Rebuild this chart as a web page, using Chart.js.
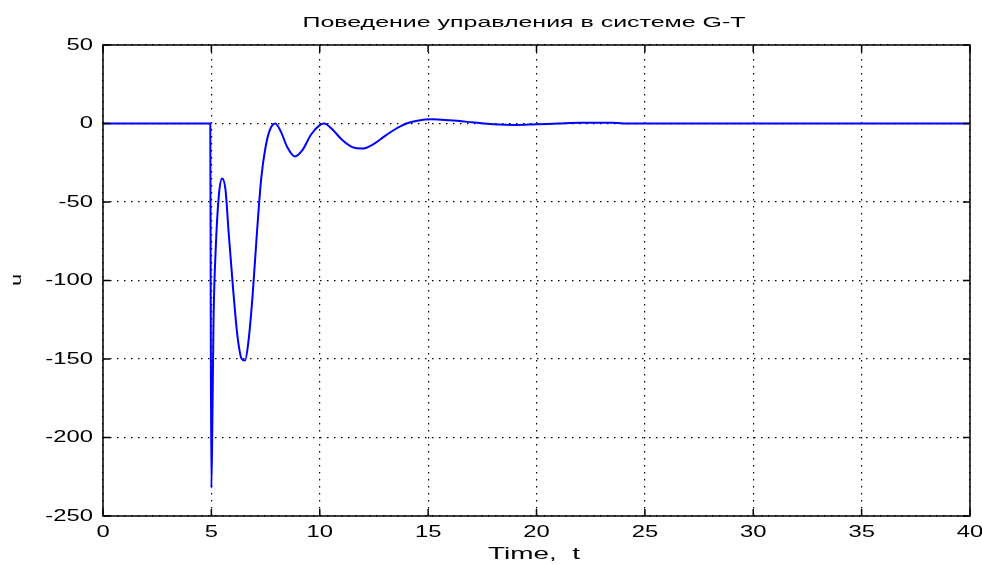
<!DOCTYPE html>
<html>
<head>
<meta charset="utf-8">
<script src="https://cdn.jsdelivr.net/npm/chart.js@4"></script>
<style>
  html, body { margin: 0; padding: 0; background: #fff; }
  #wrap { width: 982px; height: 565px; }
</style>
</head>
<body>
<div id="wrap"><canvas id="uChart" width="982" height="565"></canvas></div>
<script>
// данные
const timeValues = [0, 4.9, 4.95, 4.97, 5.0, 5.05, 5.1, 5.2, 5.35, 5.5, 5.65, 5.8, 6.0, 6.2, 6.4, 6.55, 6.7, 6.9, 7.1, 7.3, 7.5, 7.7, 7.95, 8.2, 8.5, 8.85, 9.2, 9.6, 10.0, 10.2, 10.6, 11.0, 11.5, 11.95, 12.5, 13.0, 13.5, 14.0, 14.5, 15.2, 16.0, 17.0, 18.0, 19.0, 20.0, 21.0, 22.0, 23.5, 24.0, 40];
const uValues = [0, 0, 0, -115, -232, -185, -125, -80, -45, -35, -42, -70, -105, -135, -150, -151, -140, -110, -70, -35, -15, -4, 0, -5, -15, -21, -17, -7, -1, 0, -4, -10, -15, -16, -13, -8, -3.5, 0, 1.8, 2.7, 2, 0.8, -0.5, -1, -0.5, 0, 0.5, 0.5, 0, 0];
const xTicks = [0, 5, 10, 15, 20, 25, 30, 35, 40];
const yTicks = [50, 0, -50, -100, -150, -200, -250];

const titleText = "Поведение управления в системе G-T";
const xTitle = "Time,  t";
const yTitle = "u";
const fontFamily = "'Liberation Sans', Arial, sans-serif";

// текст, растянутый по горизонтали (как в исходной картинке)
function stretchText(ctx, text, x, y, align, sx) {
  ctx.save();
  ctx.translate(x, y);
  ctx.scale(sx, 1);
  ctx.textAlign = align;
  ctx.fillText(text, 0, 0);
  ctx.restore();
}

// рамка, засечки внутрь, подписи и заголовок
const framePlugin = {
  id: "frame",
  afterDraw(chart) {
    const { ctx, chartArea: a, scales } = chart;
    ctx.save();
    ctx.strokeStyle = "#000";
    ctx.lineWidth = 1.5;
    ctx.strokeRect(a.left, a.top, a.right - a.left, a.bottom - a.top);
    ctx.beginPath();
    xTicks.forEach((v) => {
      const px = scales.x.getPixelForValue(v);
      ctx.moveTo(px, a.bottom); ctx.lineTo(px, a.bottom - 7);
      ctx.moveTo(px, a.top); ctx.lineTo(px, a.top + 7);
    });
    yTicks.forEach((v) => {
      const py = scales.y.getPixelForValue(v);
      ctx.moveTo(a.left, py); ctx.lineTo(a.left + 7, py);
      ctx.moveTo(a.right, py); ctx.lineTo(a.right - 7, py);
    });
    ctx.stroke();

    ctx.fillStyle = "#000";
    ctx.textBaseline = "middle";
    ctx.font = "17px " + fontFamily;
    xTicks.forEach((v) => {
      stretchText(ctx, String(v), scales.x.getPixelForValue(v), a.bottom + 16, "center", 1.4);
    });
    yTicks.forEach((v) => {
      stretchText(ctx, String(v), a.left - 10, scales.y.getPixelForValue(v), "right", 1.4);
    });

    ctx.font = "16px " + fontFamily;
    let w = ctx.measureText(xTitle).width;
    stretchText(ctx, xTitle, 534, 555, "center", 92 / w);

    ctx.font = "14px " + fontFamily;
    w = ctx.measureText(titleText).width;
    stretchText(ctx, titleText, 524, 23, "center", 443 / w);

    ctx.save();
    ctx.translate(17, 280);
    ctx.rotate(-Math.PI / 2);
    ctx.font = "15px " + fontFamily;
    stretchText(ctx, yTitle, 0, 0, "center", 1.4);
    ctx.restore();
    ctx.restore();
  },
};

const gridOpts = {
  color: "#000",
  lineWidth: 1.2,
  drawTicks: false,
};

const ctx = document.getElementById("uChart").getContext("2d");
new Chart(ctx, {
  type: "line",
  data: {
    datasets: [
      {
        data: timeValues.map((t, i) => ({ x: t, y: uValues[i] })),
        borderColor: "#0000ff",
        borderWidth: 2,
        pointRadius: 0,
        fill: false,
        cubicInterpolationMode: "monotone",
      },
    ],
  },
  options: {
    responsive: false,
    animation: false,
    layout: { padding: { top: 45, right: 12, left: 0, bottom: 0 } },
    plugins: {
      legend: { display: false },
      tooltip: { enabled: false },
      title: { display: false },
    },
    scales: {
      x: {
        type: "linear",
        min: 0,
        max: 40,
        afterBuildTicks: (s) => { s.ticks = xTicks.map((v) => ({ value: v })); },
        afterFit: (s) => { s.height = 49; },
        grid: gridOpts,
        border: { display: false, dash: [1.5, 5.5] },
        ticks: { display: false },
      },
      y: {
        type: "linear",
        min: -250,
        max: 50,
        afterBuildTicks: (s) => { s.ticks = yTicks.map((v) => ({ value: v })); },
        afterFit: (s) => { s.width = 103; },
        grid: gridOpts,
        border: { display: false, dash: [1.5, 5.5] },
        ticks: { display: false },
      },
    },
  },
  plugins: [framePlugin],
});
</script>
</body>
</html>
